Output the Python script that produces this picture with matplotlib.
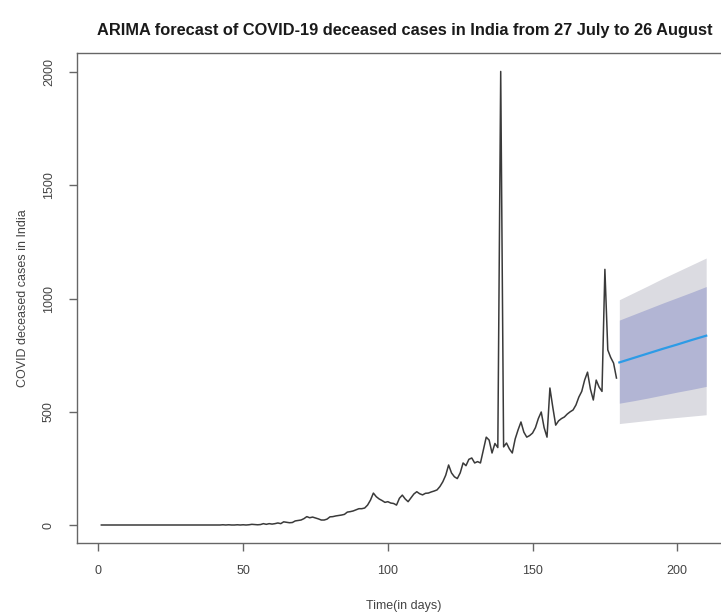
"""
ARIMA forecast plot of daily COVID-19 deceased cases in India,
drawn in the style of R's forecast::plot output.
"""

import matplotlib.pyplot as plt
import numpy as np

plt.rcParams['font.family'] = ['Liberation Sans', 'DejaVu Sans']

# Observed daily deceased cases, day 1 (30 Jan) to day 179 (26 Jul)
observed = (
    [0] * 42
    + [1, 0, 1, 0, 0, 1, 0, 1, 0, 1, 3, 2, 1, 2, 6, 3, 6, 4]            # days 43-60
    + [6, 9, 6, 14, 12, 10, 11, 18, 20, 22, 28, 37, 32, 35, 31, 27, 22]  # days 61-77
    + [22, 26, 36, 37, 40, 42, 44, 47, 57, 59, 62, 67, 72, 72]           # days 78-91
    + [75, 88, 110, 141, 125, 115, 108, 100, 103, 97, 95, 88, 118, 132]  # days 92-105
    + [115, 103, 120, 137, 147, 138, 133, 140, 141, 146, 150, 155, 170]  # days 106-118
    + [191, 220, 265, 230, 213, 205, 230, 274, 262, 290, 296, 274, 280]  # days 119-131
    + [274, 330, 388, 375, 318, 360, 342, 2003, 345, 362, 336, 318, 380] # days 132-144
    + [420, 455, 410, 388, 395, 406, 430, 470, 499, 430, 388, 605, 520]  # days 145-157
    + [441, 460, 470, 477, 490, 500, 508, 530, 565, 590, 640, 675, 600]  # days 158-170
    + [552, 640, 609, 590, 1129, 773, 740, 715, 649]                     # days 171-179
)
days = np.arange(1, len(observed) + 1)

# Forecast (27 July - 26 August) with 80% and 95% prediction intervals
fc_days = [180, 185, 190, 195, 200, 205, 210]
fc_mean = [718, 738, 758, 778, 797, 817, 836]
lo80 = [538, 549, 561, 574, 587, 599, 612]
hi80 = [905, 930, 955, 980, 1004, 1028, 1053]
lo95 = [448, 455, 462, 469, 475, 481, 487]
hi95 = [995, 1026, 1057, 1089, 1119, 1149, 1179]

fig = plt.figure(figsize=(7.21, 6.13), dpi=100)
ax = fig.add_axes([0.107, 0.114, 0.906, 0.799])

ax.plot(days, observed, color='#3a3a3a', lw=1.1)
ax.fill_between(fc_days, lo95, hi95, color='#dbdbe1', lw=0)
ax.fill_between(fc_days, lo80, hi80, color='#b2b5d4', lw=0)
ax.plot(fc_days, fc_mean, color='#2d9be6', lw=1.6)

ax.set_xlim(-7.36, 218.36)
ax.set_ylim(-80, 2083)
ax.set_xticks([0, 50, 100, 150, 200])
ax.set_yticks([0, 500, 1000, 1500, 2000])

for s in ax.spines.values():
    s.set_color('#666666')
    s.set_linewidth(1.0)
ax.tick_params(direction='out', length=6, width=1.0, color='#666666',
               labelsize=9, labelcolor='#444444', pad=10)
for lab in ax.get_yticklabels():
    lab.set_rotation(90)
    lab.set_va('center')

ax.set_xlabel('Time(in days)', fontsize=9, color='#444444', labelpad=16)
ax.set_ylabel('COVID deceased cases in India', fontsize=9, color='#444444', labelpad=10)
fig.text(0.561, 0.951, 'ARIMA forecast of COVID-19 deceased cases in India from 27 July to 26 August',
         ha='center', va='center', fontsize=11.8, fontweight='bold', color='#1a1a1a')

fig.savefig('out.png', dpi=100)
